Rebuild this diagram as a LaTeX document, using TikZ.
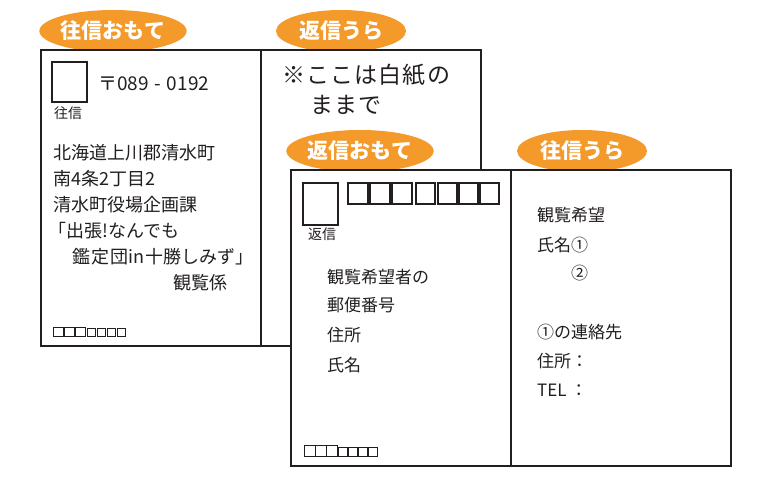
\documentclass[tikz,border=0pt]{standalone}
\usepackage{fontspec}
\setmainfont{Noto Sans CJK JP}
\newfontfamily\jpsp[LetterSpace=5]{Noto Sans CJK JP}
\usetikzlibrary{shapes.geometric}
\definecolor{orng}{HTML}{F39A2B}
\definecolor{ink}{HTML}{231F20}
\newcommand{\fsz}[1]{\fontsize{#1}{#1}\selectfont}
\tikzset{
  tag/.style={ellipse, fill=orng, minimum width=130pt, minimum height=42pt, inner sep=0pt,
    text=white, font=\bfseries\fsz{21}},
  card/.style={draw=ink, line width=2pt, fill=white},
  stampbox/.style={draw=ink, line width=2pt},
  tinybox/.style={draw=ink, line width=1pt},
  txt/.style={anchor=west, inner sep=0pt, text=ink},
  addr/.style={txt, font=\fsz{18}},
  body/.style={txt, font=\fsz{17}},
  small/.style={anchor=center, inner sep=0pt, text=ink, font=\fsz{14}}
}
\begin{document}
\begin{tikzpicture}[x=1pt,y=-1pt]
\useasboundingbox (0,0) rectangle (771,479);
% tags behind first card
\node[tag] (t1) at (113,31) {往信おもて};
\node[tag] (t2) at (341,31) {返信うら};
% first card
\draw[card] (41,50) rectangle (481,346);
\draw[ink, line width=2pt] (261,50) -- (261,346);
\draw[stampbox] (52,62) rectangle (87,102);
\node[small] (l1) at (68,113) {往信};
\node[txt, font=\fsz{19}] (zip) at (98,84) {〒089{\kern1.5pt} - {\kern1.5pt}0192};
\node[addr] (a1) at (53,153) {北海道上川郡清水町};
\node[addr] (a2) at (53,179) {南4条2丁目2};
\node[addr] (a3) at (53,205) {清水町役場企画課};
\node[addr] (a4) at (48,231) {「出張!なんでも};
\node[addr] (a5) at (72,257) {鑑\kern1pt 定\kern1pt 団in\kern1pt 十勝しみず」};
\node[addr] (a6) at (173,283) {観覧係};
\foreach \i in {0,1,2} {\draw[tinybox] (53+\i*11,327) rectangle (63+\i*11,336);}
\foreach \i in {0,1,2,3} {\draw[tinybox] (87+\i*10,328) rectangle (95.5+\i*10,336);}
\node[txt, font=\jpsp\fsz{23}] (n1) at (282,75) {※ここは白紙の};
\node[txt, font=\jpsp\fsz{23}] (n2) at (310,105) {ままで};
% tags behind second card
\node[tag] (t3) at (360,151) {返信おもて};
\node[tag] (t4) at (582,151) {往信うら};
% second card
\draw[card] (291,170) rectangle (731,466);
\draw[ink, line width=2pt] (511,170) -- (511,466);
\draw[stampbox] (303,183) rectangle (338,225);
\node[small] (l2) at (322,234) {返信};
\foreach \x in {348,370,392} {\draw[stampbox] (\x,183) rectangle (\x+20,204);}
\foreach \x in {416,438,459,480} {\draw[stampbox] (\x,183) rectangle (\x+19,204);}
\node[body] (b1) at (327,277) {観覧希望者の};
\node[body] (b2) at (327,305) {郵便番号};
\node[body] (b3) at (327,335) {住所};
\node[body] (b4) at (327,365) {氏名};
\foreach \i in {0,1,2} {\draw[tinybox] (304.5+\i*11,445) rectangle (315+\i*11,456.5);}
\foreach \i in {0,1,2,3} {\draw[tinybox] (338.5+\i*10,447.5) rectangle (347+\i*10,456.5);}
\node[body] (c1) at (537,215) {観覧希望};
\node[body] (c2) at (537,245) {氏名①};
\node[body] (c3) at (571,273) {②};
\node[body] (c4) at (537,332) {①の連絡先};
\node[body] (c5) at (537,361) {住所：};
\node[body] (c6) at (537,390) {TEL ：};
\end{tikzpicture}
\end{document}
